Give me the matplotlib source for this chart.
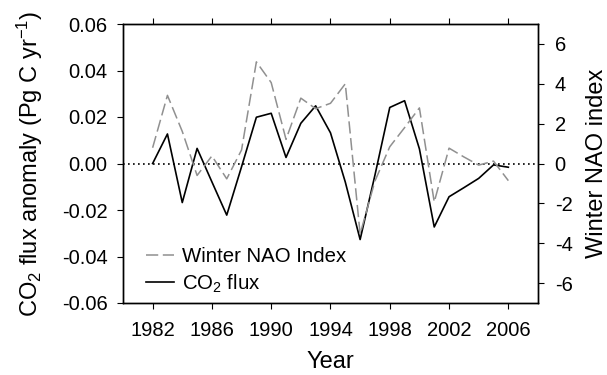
"""
CO2 flux anomaly vs winter NAO index, 1982-2006.
"""
import matplotlib
matplotlib.use('Agg')
import matplotlib.pyplot as plt
from matplotlib.ticker import FormatStrFormatter

plt.rcParams['font.family'] = ['Liberation Sans', 'DejaVu Sans']
plt.rcParams['mathtext.default'] = 'regular'
plt.rcParams['axes.unicode_minus'] = False

# Data
years = list(range(1982, 2007))
co2_flux = [0.000, 0.0127, -0.0168, 0.0065, -0.0079, -0.0222, -0.0014, 0.0199,
            0.0216, 0.0026, 0.0173, 0.0248, 0.0132, -0.0080, -0.0327, -0.0050,
            0.0241, 0.0270, 0.0063, -0.0273, -0.0143, -0.0104, -0.0064, -0.0006,
            -0.0016]
nao_index = [0.79, 3.42, 1.61, -0.60, 0.38, -0.77, 0.68, 5.10, 4.06, 1.21,
             3.28, 2.75, 3.02, 4.00, -3.54, -0.88, 0.84, 1.80, 2.79, -1.93,
             0.77, 0.33, -0.08, 0.12, -0.86]

x_ticks = [1982, 1986, 1990, 1994, 1998, 2002, 2006]
left_ticks = [-0.06, -0.04, -0.02, 0.00, 0.02, 0.04, 0.06]
right_ticks = [-6, -4, -2, 0, 2, 4, 6]

fig = plt.figure(figsize=(6.07, 3.75), dpi=100)
ax = fig.add_axes([0.2026, 0.192, 0.6837, 0.744])
ax2 = ax.twinx()

ax.axhline(0, color='black', linestyle=(0, (1, 2)), linewidth=1.2, zorder=1)

line_nao, = ax2.plot(years, nao_index, color='#909090', linewidth=1.1,
                     dashes=(8, 3), label='Winter NAO Index')
line_co2, = ax.plot(years, co2_flux, color='black', linewidth=1.2,
                    label='CO$_2$ flux')

ax.set_xlim(1980, 2008)
ax.set_ylim(-0.06, 0.06)
ax2.set_ylim(-7, 7)

ax.set_xticks(x_ticks)
ax.set_yticks(left_ticks)
ax2.set_yticks(right_ticks)
ax.yaxis.set_major_formatter(FormatStrFormatter('%.2f'))

ax.tick_params(axis='both', direction='out', length=4, width=0.8,
               labelsize=14.5, top=True)
ax.tick_params(axis='y', pad=7)
ax.tick_params(axis='x', pad=9)
ax2.tick_params(axis='y', direction='out', length=4, width=0.8,
                labelsize=14.5, pad=8)

for spine in list(ax.spines.values()) + list(ax2.spines.values()):
    spine.set_linewidth(1.0)

ax.set_xlabel('Year', fontsize=17, labelpad=8)
ax.set_ylabel('CO$_2$ flux anomaly (Pg C yr$^{-1}$)', fontsize=17, labelpad=12)
ax2.set_ylabel('Winter NAO index', fontsize=17, labelpad=10)

ax2.legend(handles=[line_nao, line_co2], loc='lower left', frameon=False,
           fontsize=14.7, handlelength=1.4, handletextpad=0.4,
           labelspacing=0.3, borderaxespad=0.0, bbox_to_anchor=(0.035, 0.0))

fig.savefig('out.png', dpi=100)
